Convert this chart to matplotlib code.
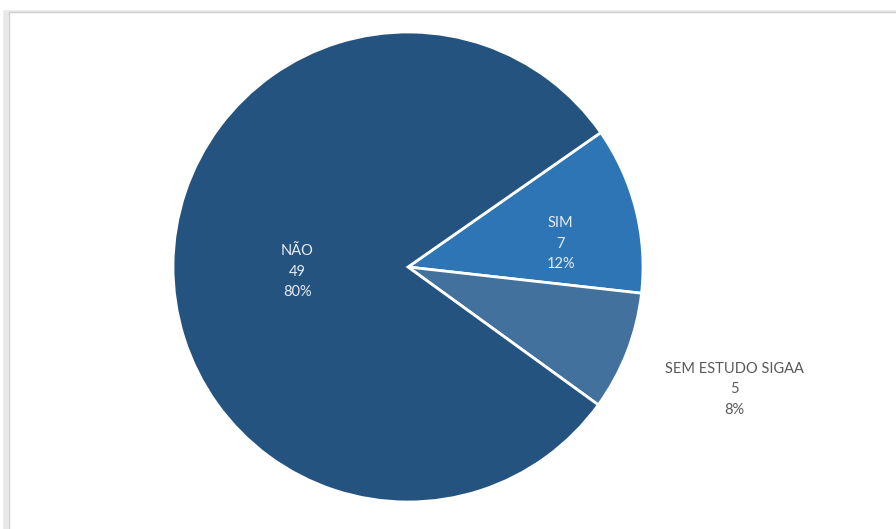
import matplotlib.pyplot as plt
from matplotlib.patches import Rectangle

# dados
labels = ['SIM', 'SEM ESTUDO SIGAA', 'NÃO']
values = [7, 5, 49]
percents = ['12%', '8%', '80%']
colors = ['#2E75B6', '#41719C', '#255380']
text_colors = ['#E6ECF4', '#595959', '#E6ECF4']
# posicao dos rotulos (coordenadas do eixo do pie)
label_pos = [(0.65, 0.10), (1.39, -0.52), (-0.47, -0.02)]

plt.rcParams['font.family'] = ['Lato', 'DejaVu Sans']

W, H = 896, 529
fig = plt.figure(figsize=(W / 100, H / 100), dpi=100)
fig.patch.set_facecolor('white')

# moldura com sombra (desenhada por baixo do grafico)
fig.patches.append(Rectangle((6 / W, -10 / H), 1.1, 526 / H, transform=fig.transFigure,
                             facecolor='none', edgecolor='#E8E8E8', lw=4, zorder=-2))
fig.patches.append(Rectangle((9 / W, -10 / H), 1.1, 527 / H, transform=fig.transFigure,
                             facecolor='white', edgecolor='#CFCFCF', lw=1.0, zorder=-1))

ax = fig.add_axes([173 / W, 27 / H, 470 / W, 470 / H])
ax.set_zorder(1)
ax.pie(values, colors=colors, startangle=34.9, counterclock=False, radius=1.0,
       wedgeprops=dict(edgecolor='white', linewidth=2))
ax.set_xlim(-1, 1)
ax.set_ylim(-1, 1)
ax.set_aspect('equal')
ax.axis('off')

for lab, v, p, c, (x, y) in zip(labels, values, percents, text_colors, label_pos):
    ax.text(x, y, f'{lab}\n{v}\n{p}', ha='center', va='center', color=c,
            fontsize=10.5, linespacing=1.6, clip_on=False)

fig.savefig('out.png', dpi=100)
